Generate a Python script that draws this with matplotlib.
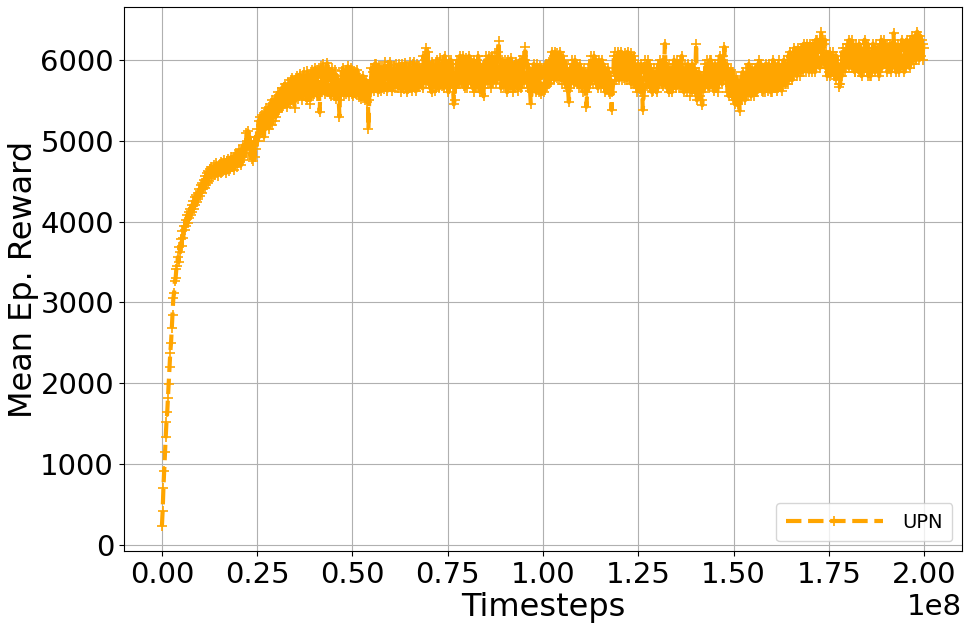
import numpy as np
import matplotlib
matplotlib.use("Agg")
import matplotlib.pyplot as plt

# Mean episode reward, evenly spaced over 0 .. 2e8 timesteps
# (one row = 2e6 timesteps)
reward = [
    230, 420, 700, 920, 1150, 1330, 1520, 1640, 1820, 1990,
    2200, 2380, 2500, 2680, 2850, 3050, 3120, 3260, 3300, 3420,
    3450, 3560, 3500, 3680, 3620, 3780, 3700, 3880, 3800, 3950,
    3900, 4020, 3950, 4080, 3980, 4120, 4040, 4160, 4080, 4200,
    4120, 4250, 4160, 4300, 4200, 4330, 4240, 4360, 4280, 4400,
    4320, 4450, 4360, 4480, 4400, 4520, 4420, 4560, 4450, 4600,
    4480, 4620, 4500, 4650, 4540, 4680, 4560, 4640, 4580, 4700,
    4580, 4720, 4600, 4680, 4560, 4700, 4620, 4740, 4600, 4720,
    4620, 4760, 4640, 4720, 4600, 4750, 4650, 4780, 4620, 4740,
    4660, 4800, 4680, 4760, 4640, 4800, 4700, 4850, 4680, 4820,
    4720, 4880, 4740, 4850, 4700, 4900, 4760, 4950, 4800, 4920,
    4850, 5100, 4900, 5120, 4950, 5050, 4820, 5000, 4780, 4950,
    4750, 4980, 4800, 5050, 4900, 5150, 5000, 5250, 5050, 5300,
    5100, 5320, 5150, 5280, 5050, 5350, 5180, 5400, 5200, 5380,
    5150, 5420, 5250, 5450, 5200, 5500, 5300, 5480, 5250, 5520,
    5300, 5550, 5350, 5600, 5380, 5580, 5400, 5650, 5420, 5620,
    5450, 5700, 5480, 5650, 5420, 5720, 5500, 5680, 5460, 5750,
    5500, 5780, 5520, 5700, 5400, 5750, 5550, 5800, 5520, 5760,
    5550, 5820, 5580, 5750, 5500, 5800, 5560, 5850, 5600, 5780,
    5500, 5860, 5580, 5800, 5450, 5820, 5600, 5880, 5550, 5800,
    5580, 5900, 5620, 5850, 5550, 5880, 5600, 5350, 5650, 5920,
    5600, 5950, 5650, 5850, 5580, 5900, 5620, 5960, 5600, 5880,
    5580, 5850, 5550, 5900, 5600, 5820, 5560, 5880, 5520, 5800,
    5550, 5760, 5500, 5300, 5720, 5580, 5860, 5600, 5900, 5560,
    5820, 5580, 5880, 5600, 5920, 5560, 5850, 5600, 5900, 5580,
    5800, 5550, 5860, 5600, 5820, 5580, 5880, 5620, 5800, 5540,
    5780, 5520, 5760, 5560, 5800, 5580, 5720, 5500, 5750, 5480,
    5700, 5150, 5500, 5720, 5600, 5900, 5650, 5850, 5620, 5950,
    5650, 5950, 5680, 5880, 5600, 5920, 5650, 5850, 5620, 5900,
    5680, 5900, 5640, 5980, 5700, 5870, 5620, 5940, 5680, 5980,
    5680, 5900, 5620, 5850, 5700, 5920, 5650, 5950, 5700, 5880,
    5650, 5950, 5700, 5880, 5600, 5950, 5680, 5900, 5640, 5960,
    5700, 5850, 5600, 5900, 5650, 5980, 5700, 5900, 5620, 5950,
    5700, 5980, 5650, 5850, 5620, 5950, 5700, 5920, 5660, 5900,
    5700, 5900, 5650, 6050, 5750, 6000, 5720, 6150, 5800, 6100,
    5700, 5950, 5650, 5900, 5600, 5980, 5680, 5880, 5620, 5950,
    5650, 6000, 5700, 5950, 5650, 6020, 5720, 5950, 5680, 6000,
    5650, 6050, 5700, 5980, 5660, 5900, 5600, 5980, 5700, 6000,
    5700, 5950, 5650, 5450, 5500, 5850, 5650, 6000, 5700, 5950,
    5700, 6050, 5750, 6000, 5720, 6050, 5680, 5980, 5650, 6020,
    5650, 5950, 5700, 6050, 5750, 6000, 5700, 5950, 5650, 6000,
    5600, 5900, 5700, 6000, 5680, 6050, 5650, 5950, 5600, 5900,
    5650, 5850, 5550, 5950, 5700, 6050, 5750, 5980, 5700, 6050,
    5750, 5950, 5650, 6050, 5720, 6000, 5750, 6080, 5720, 6000,
    5750, 6100, 6230, 5800, 5950, 5650, 6000, 5700, 5980, 5680,
    6000, 5700, 5900, 5600, 6000, 5700, 5950, 5650, 6020, 5700,
    5950, 5600, 5900, 5650, 5980, 5700, 5900, 5620, 5950, 5700,
    6000, 5650, 5980, 5700, 6050, 5720, 6000, 6160, 5800, 5750,
    5950, 5650, 5900, 5620, 5460, 5600, 5850, 5700, 5950, 5650,
    5900, 5600, 5950, 5650, 5880, 5600, 5920, 5580, 5880, 5620,
    5880, 5600, 5900, 5650, 5950, 5680, 5900, 5700, 5980, 5720,
    6000, 5750, 6100, 5800, 6050, 5750, 6100, 5800, 6080, 5780,
    6050, 5750, 6100, 5800, 5950, 5700, 6050, 5750, 5980, 5700,
    5950, 5650, 5900, 5620, 5480, 5650, 5900, 5700, 6000, 5750,
    5950, 5700, 6000, 5750, 5950, 5700, 5900, 5680, 5950, 5700,
    5900, 5650, 5850, 5600, 5880, 5620, 5850, 5420, 5600, 5850,
    5650, 5950, 5700, 6050, 5750, 5980, 5700, 6050, 5750, 6000,
    5700, 5950, 5650, 6000, 5700, 5950, 5680, 6000, 5700, 5950,
    5700, 5900, 5600, 5850, 5650, 5900, 5600, 5850, 5580, 5800,
    5380, 5600, 5700, 6050, 5800, 6100, 5750, 6050, 5800, 6100,
    5750, 6050, 5800, 6100, 5750, 6000, 5780, 6080, 5750, 6050,
    5750, 6100, 5800, 6050, 5750, 6080, 5700, 6000, 5720, 6050,
    5700, 5950, 5650, 5900, 5600, 5950, 5650, 5900, 5600, 5950,
    5650, 5380, 5550, 5750, 6000, 5700, 5950, 5680, 6000, 5700,
    5950, 5650, 5900, 5600, 5850, 5620, 5900, 5650, 5850, 5600,
    5650, 5950, 5700, 6000, 5750, 5950, 5700, 6000, 5680, 5950,
    6200, 5800, 5950, 5650, 5900, 5600, 5950, 5650, 5900, 5600,
    5900, 5650, 6000, 5700, 5950, 5650, 6000, 5700, 5950, 5650,
    5950, 5650, 6050, 5700, 5900, 5600, 5950, 5650, 5900, 5600,
    5950, 5700, 5850, 5550, 5900, 5600, 5950, 5650, 5900, 5600,
    5900, 6200, 5500, 5800, 5600, 5850, 5550, 5800, 5500, 5440,
    5600, 5850, 5650, 5950, 5700, 6000, 5680, 5950, 5650, 6000,
    6000, 5700, 5950, 5650, 5900, 5620, 5950, 5650, 5900, 5600,
    5950, 5700, 6050, 5750, 6000, 5700, 6050, 5750, 6160, 5800,
    5750, 5950, 5600, 5900, 5550, 5850, 5600, 5880, 5550, 5850,
    5500, 5800, 5450, 5780, 5480, 5750, 5450, 5700, 5370, 5500,
    5750, 5500, 5850, 5550, 5800, 5500, 5900, 5600, 5850, 5550,
    5950, 5650, 5850, 5550, 5900, 5600, 5850, 5550, 5900, 5600,
    5900, 5600, 5950, 5650, 6000, 5650, 5950, 5620, 5900, 5600,
    5900, 5600, 5950, 5650, 5900, 5620, 5950, 5650, 5900, 5600,
    5900, 5600, 6000, 5700, 5950, 5650, 5900, 5620, 5950, 5650,
    6000, 5700, 5900, 5620, 5950, 5680, 6000, 5700, 5950, 5700,
    5950, 5700, 6050, 5750, 6100, 5800, 6050, 5750, 6100, 5800,
    6150, 5850, 6100, 5800, 6150, 5850, 6100, 5800, 6150, 5850,
    6150, 5850, 6200, 5900, 6150, 5850, 6200, 5900, 6150, 5850,
    6200, 5900, 6100, 5850, 6200, 5900, 6150, 5850, 6250, 5950,
    6250, 5950, 6200, 5900, 6250, 6350, 6000, 6250, 5950, 6200,
    6250, 5900, 6100, 5800, 6050, 5850, 6100, 5800, 6050, 5850,
    5850, 6100, 5800, 6000, 5760, 6050, 5800, 5950, 5700, 5670,
    5700, 5950, 5800, 6150, 5850, 6100, 5850, 6150, 5900, 6200,
    6200, 5900, 6250, 5950, 6200, 5900, 6250, 5950, 6150, 5850,
    5850, 6200, 5900, 6150, 5850, 6200, 5900, 6150, 5800, 6100,
    6100, 5850, 6250, 5900, 6200, 5850, 6200, 5800, 6150, 5800,
    5800, 6100, 5850, 6200, 5900, 6150, 5850, 6200, 5900, 6150,
    6150, 5800, 6100, 5900, 6250, 5900, 6200, 5950, 6250, 5950,
    5950, 6200, 5850, 6150, 5900, 6200, 5850, 6150, 5900, 6250,
    6330, 5950, 6200, 5850, 6150, 5900, 6200, 5850, 6150, 5900,
    5900, 6250, 5950, 6200, 5850, 6200, 5900, 6250, 5950, 6150,
    6150, 5900, 6250, 5950, 6300, 6000, 6250, 5950, 6300, 6000,
    6000, 6350, 6050, 6250, 6000, 6300, 6050, 6250, 6000, 6200,
    6150,
]
t_start = 0.0
t_end = 2.0e8
timesteps = np.linspace(t_start, t_end, len(reward))

series_label = "UPN"
x_label = "Timesteps"
y_label = "Mean Ep. Reward"

fig = plt.figure(figsize=(9.67, 6.27), dpi=100)
ax = fig.add_axes([0.128, 0.121, 0.867, 0.868])

ax.plot(timesteps, reward, linestyle="--", color="orange", linewidth=3,
        marker="+", markersize=7, markeredgewidth=1.2, label=series_label)

ax.grid(True, color="#b0b0b0", linewidth=0.8)
ax.set_axisbelow(True)
ax.set_xlabel(x_label, fontsize=23, labelpad=2)
ax.set_ylabel(y_label, fontsize=23, labelpad=1)
ax.tick_params(axis="both", labelsize=21)
ax.xaxis.get_offset_text().set_fontsize(21)
ax.set_yticks([0, 1000, 2000, 3000, 4000, 5000, 6000])
ax.set_xticks(np.arange(0, 2.01e8, 0.25e8))

ax.legend(loc="lower right", fontsize=14, handlelength=5, borderpad=0.5,
          handletextpad=1.0)

fig.savefig("out.png", dpi=100)
